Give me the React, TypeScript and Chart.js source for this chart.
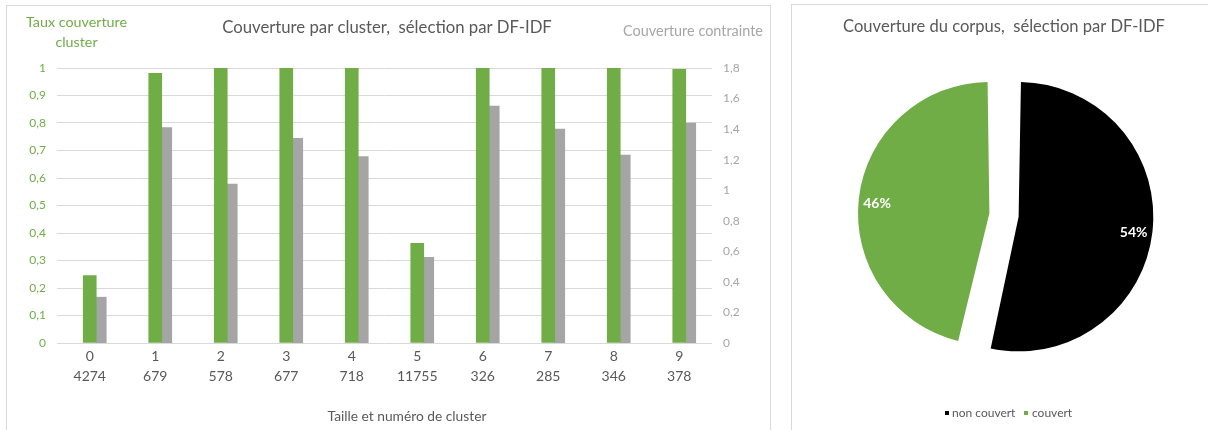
import React, { useEffect, useRef } from 'react';
import { Chart, registerables } from 'chart.js';

Chart.register(...registerables);

// ---------- data ----------
const clusterIds = ['0', '1', '2', '3', '4', '5', '6', '7', '8', '9'];
const clusterSizes = ['4274', '679', '578', '677', '718', '11755', '326', '285', '346', '378'];
const tauxCouverture = [0.245, 0.981, 1, 1, 1, 0.362, 1, 1, 1, 0.995];
const couvertureContrainte = [0.3, 1.41, 1.04, 1.34, 1.22, 0.56, 1.55, 1.4, 1.23, 1.44];

const barTitle = 'Couverture par cluster,  sélection par DF-IDF';
const leftAxisTitle = ['Taux couverture', 'cluster'];
const rightAxisTitle = 'Couverture contrainte';
const xAxisTitle = 'Taille et numéro de cluster';

const pieTitle = 'Couverture du corpus,  sélection par DF-IDF';
const pieLabels = ['non couvert', 'couvert'];
const pieValues = [53.6, 46.4];

// ---------- styles ----------
const FONT = 'Lato, "Open Sans", sans-serif';
const GREEN = '#70AD47';
const GRAY = '#A5A5A5';
const TEXT = '#595959';
const GRID = '#D9D9D9';

const fmt = (v: number) => String(Math.round(v * 10) / 10).replace('.', ',');

function drawFit(
  ctx: CanvasRenderingContext2D,
  text: string,
  x: number,
  y: number,
  width: number,
  color: string,
  align: CanvasTextAlign = 'center',
  weight = 'normal'
) {
  ctx.font = `${weight} 20px ${FONT}`;
  const w = ctx.measureText(text).width;
  const size = (20 * width) / w;
  ctx.font = `${weight} ${size}px ${FONT}`;
  ctx.fillStyle = color;
  ctx.textAlign = align;
  ctx.textBaseline = 'middle';
  ctx.fillText(text, x, y);
}

const barTextPlugin = {
  id: 'barTexts',
  afterDraw(chart: any) {
    const ctx = chart.ctx as CanvasRenderingContext2D;
    ctx.save();
    drawFit(ctx, barTitle, 380, 22, 330, TEXT);
    drawFit(ctx, leftAxisTitle[0], 69.5, 16, 101, GREEN);
    ctx.fillText(leftAxisTitle[1], 69.5, 36);
    drawFit(ctx, rightAxisTitle, 686, 25, 140, '#A6A6A6');
    drawFit(ctx, xAxisTitle, 400, 411, 159, TEXT);
    ctx.restore();
  },
};

const pieTextPlugin = {
  id: 'pieTexts',
  afterDraw(chart: any) {
    const ctx = chart.ctx as CanvasRenderingContext2D;
    ctx.save();
    drawFit(ctx, pieTitle, 212, 22, 322, TEXT);

    // percentage labels (follow the arc's own offset translation)
    const meta = chart.getDatasetMeta(0);
    const data = chart.data.datasets[0].data as number[];
    const total = data.reduce((a, b) => a + b, 0);
    meta.data.forEach((arc: any, i: number) => {
      const p = arc.getProps(['x', 'y', 'startAngle', 'endAngle', 'outerRadius', 'circumference'], true);
      const mid = (p.startAngle + p.endAngle) / 2;
      const off = (arc.options.offset || 0) / 4;
      const fix = 1 - Math.sin(Math.min(Math.PI, p.circumference || 0));
      const r = p.outerRadius + off * fix;
      const d = off + r * 0.86;
      const lx = p.x + Math.cos(mid) * d;
      const ly = p.y + Math.sin(mid) * d + 3;
      ctx.font = `bold 14px ${FONT}`;
      ctx.fillStyle = '#FFFFFF';
      ctx.textAlign = 'center';
      ctx.textBaseline = 'middle';
      ctx.fillText(Math.round((data[i] / total) * 100) + '%', lx, ly);
    });

    // legend
    const colors = chart.data.datasets[0].backgroundColor as string[];
    const items = [
      { sq: 153, tx: 160 },
      { sq: 232, tx: 240 },
    ];
    const ly = 408;
    chart.data.labels.forEach((lab: string, i: number) => {
      ctx.fillStyle = colors[i];
      ctx.fillRect(items[i].sq, ly - 2, 4, 4);
      ctx.font = `normal 12px ${FONT}`;
      ctx.fillStyle = TEXT;
      ctx.textAlign = 'left';
      ctx.textBaseline = 'middle';
      ctx.fillText(lab, items[i].tx, ly);
    });
    ctx.restore();
  },
};

function BarChart() {
  const ref = useRef<HTMLCanvasElement>(null);
  useEffect(() => {
    if (!ref.current) return;
    const chart = new Chart(ref.current, {
      type: 'bar',
      data: {
        labels: clusterIds.map((id, i) => [id, clusterSizes[i]]),
        datasets: [
          {
            label: '',
            data: clusterIds.map(() => null),
            yAxisID: 'y',
            barThickness: 13,
          },
          {
            label: leftAxisTitle.join(' '),
            data: tauxCouverture,
            backgroundColor: GREEN,
            yAxisID: 'y',
            barThickness: 13,
          },
          {
            label: rightAxisTitle,
            data: couvertureContrainte,
            backgroundColor: GRAY,
            yAxisID: 'y1',
            barThickness: 11.5,
            maxBarThickness: 10,
          },
        ] as any,
      },
      options: {
        animation: false,
        responsive: false,
        layout: { padding: { top: 62, left: 0, right: 0, bottom: 0 } },
        plugins: { legend: { display: false }, tooltip: { enabled: false }, title: { display: false } },
        scales: {
          x: {
            grid: { display: false, drawTicks: false },
            border: { display: false },
            ticks: {
              color: TEXT,
              font: { family: FONT, size: 14, lineHeight: 1.43 },
              padding: 3,
              maxRotation: 0,
              autoSkip: false,
            },
            afterFit(s: any) {
              s.height = 91;
            },
          },
          y: {
            position: 'left',
            min: 0,
            max: 1,
            ticks: {
              stepSize: 0.1,
              color: GREEN,
              font: { family: FONT, size: 12 },
              padding: 11,
              callback: (v: any) => fmt(Number(v)),
            },
            grid: { color: GRID, drawTicks: false, lineWidth: 1 },
            border: { display: false },
            afterFit(s: any) {
              s.width = 50;
            },
          },
          y1: {
            position: 'right',
            min: 0,
            max: 1.8,
            ticks: {
              stepSize: 0.2,
              color: '#A6A6A6',
              font: { family: FONT, size: 12 },
              padding: 11,
              callback: (v: any) => fmt(Number(v)),
            },
            grid: { display: false, drawTicks: false },
            border: { display: false },
            afterFit(s: any) {
              s.width = 58;
            },
          },
        },
      } as any,
      plugins: [barTextPlugin],
    });
    return () => chart.destroy();
  }, []);
  return <canvas ref={ref} width={763} height={428} style={{ width: 763, height: 428, display: 'block' }} />;
}

function PieChart() {
  const ref = useRef<HTMLCanvasElement>(null);
  useEffect(() => {
    if (!ref.current) return;
    const chart = new Chart(ref.current, {
      type: 'pie',
      data: {
        labels: pieLabels,
        datasets: [
          {
            data: pieValues,
            backgroundColor: ['#000000', GREEN],
            borderWidth: 0,
            offset: 58.8,
            radius: 120,
          },
        ],
      },
      options: {
        animation: false,
        responsive: false,
        layout: { padding: { top: 40, left: 8, right: 0, bottom: 44 } },
        plugins: { legend: { display: false }, tooltip: { enabled: false }, title: { display: false } },
      } as any,
      plugins: [pieTextPlugin],
    });
    return () => chart.destroy();
  }, []);
  return <canvas ref={ref} width={416} height={424} style={{ width: 416, height: 424, display: 'block' }} />;
}

export default function App() {
  return (
    <div style={{ position: 'fixed', left: 0, top: 0, width: 1208, height: 430, background: '#fff', overflow: 'hidden' }}>
      <div
        style={{
          position: 'absolute',
          left: 6,
          top: 5,
          width: 765,
          height: 430,
          border: `1px solid ${GRID}`,
          boxSizing: 'border-box',
        }}
      >
        <BarChart />
      </div>
      <div
        style={{
          position: 'absolute',
          left: 791,
          top: 4,
          width: 420,
          height: 430,
          border: `1px solid ${GRID}`,
          boxSizing: 'border-box',
        }}
      >
        <PieChart />
      </div>
    </div>
  );
}
